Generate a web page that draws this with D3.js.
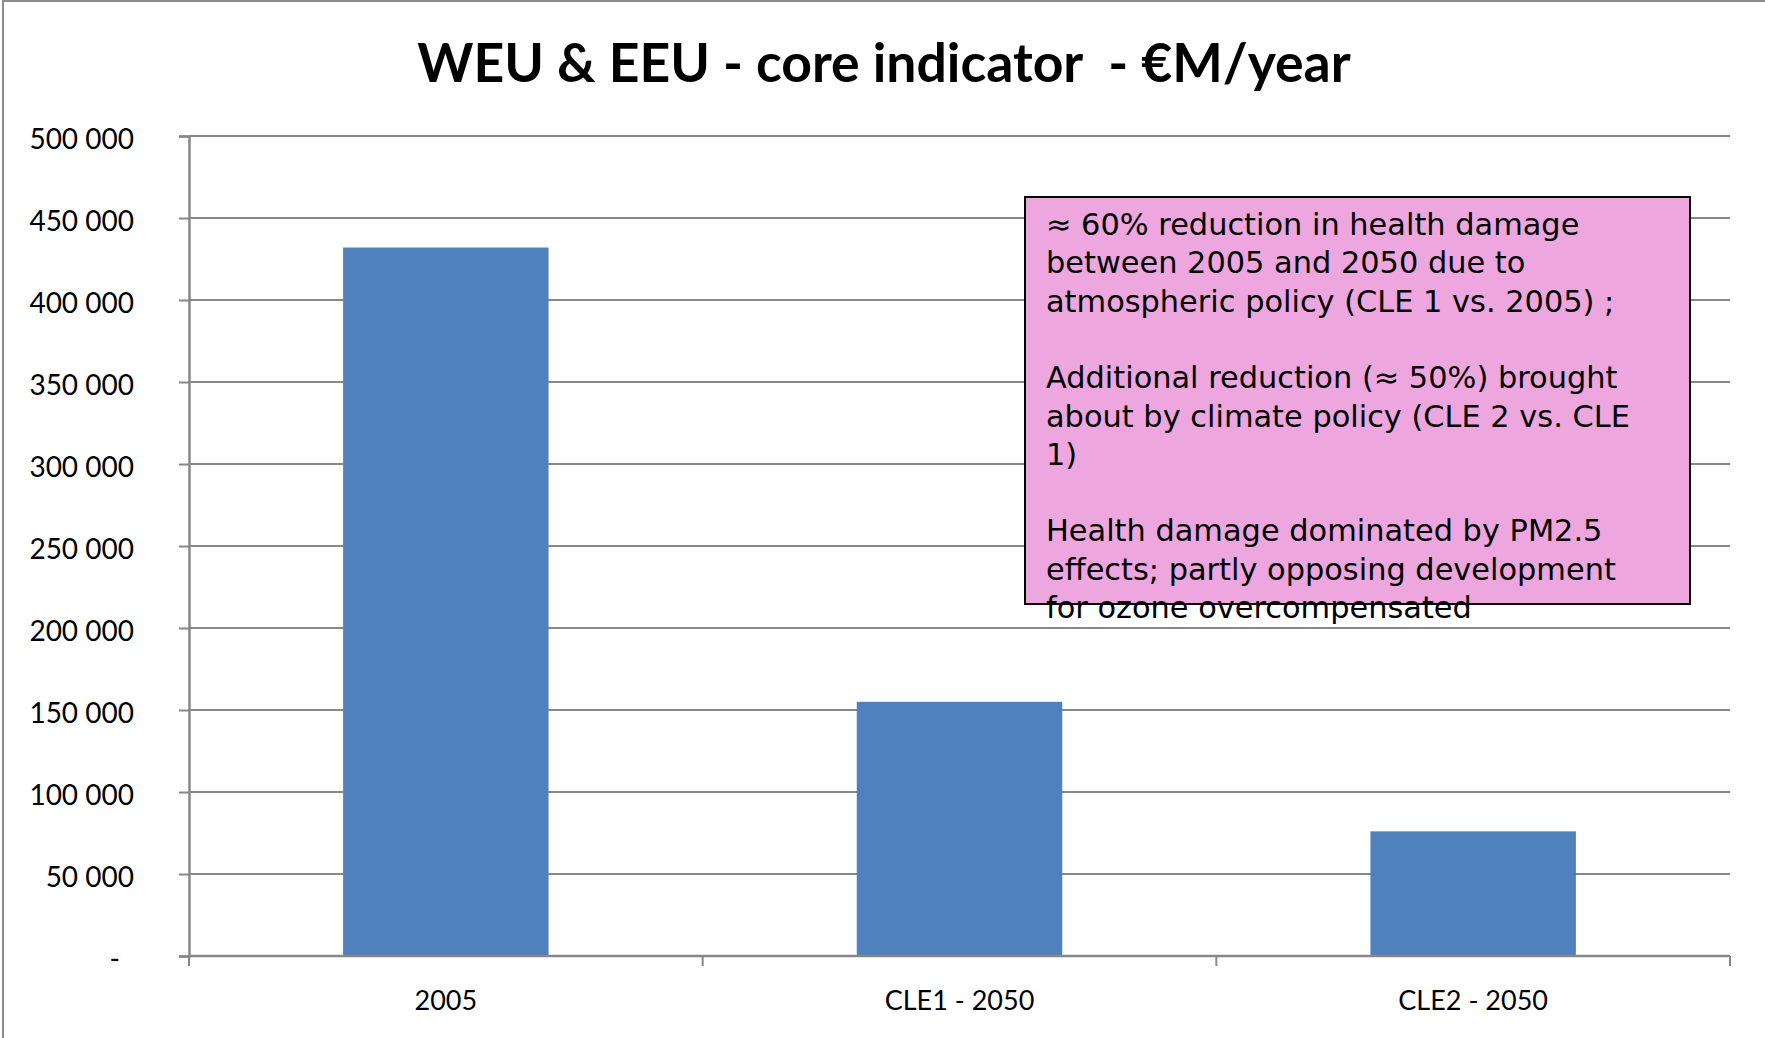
<!DOCTYPE html>
<html>
<head>
<meta charset="utf-8">
<script src="https://cdn.jsdelivr.net/npm/d3@7"></script>
<style>
  html, body { margin: 0; padding: 0; background: #fff; }
  svg { display: block; }
</style>
</head>
<body>
<svg id="chart" width="1765" height="1038"></svg>
<script>
(function() {

  'use strict';

  // data
  var categories = ['2005', 'CLE1 - 2050', 'CLE2 - 2050'];
  var values = [432000, 155000, 76000];
  var yTicks = [0, 50000, 100000, 150000, 200000, 250000, 300000, 350000, 400000, 450000, 500000];
  var title = 'WEU & EEU - core indicator  - \u20acM/year';
  var noteLines = [
    '\u2248 60% reduction in health damage',
    'between 2005 and 2050 due to',
    'atmospheric policy (CLE 1 vs. 2005) ;',
    '',
    'Additional reduction (\u2248 50%) brought',
    'about by climate policy (CLE 2 vs. CLE',
    '1)',
    '',
    'Health damage dominated by PM2.5',
    'effects; partly opposing development',
    'for ozone overcompensated'
  ];

  var svg = d3.select('#chart');
  var grey = '#878787';

  var plot = { left: 189, right: 1730, top: 136, bottom: 956 };

  var x = d3.scaleBand()
    .domain(categories)
    .range([plot.left, plot.right])
    .paddingInner(0.6)
    .paddingOuter(0.3);

  var y = d3.scaleLinear()
    .domain([0, 500000])
    .range([plot.bottom, plot.top]);

  // outer frame (top + left edges visible)
  svg.append('line')
    .attr('x1', 3).attr('x2', 1765).attr('y1', 1).attr('y2', 1)
    .attr('stroke', '#8c8c8c').attr('stroke-width', 2);
  svg.append('line')
    .attr('x1', 3).attr('x2', 3).attr('y1', 0).attr('y2', 1038)
    .attr('stroke', '#8c8c8c').attr('stroke-width', 2);

  // title
  svg.append('text')
    .attr('x', 884)
    .attr('y', 82)
    .attr('text-anchor', 'middle')
    .attr('font-family', 'Lato, sans-serif')
    .attr('font-weight', 'bold')
    .attr('font-size', 53.5)
    .style('white-space', 'pre')
    .text(title);

  // y axis with gridlines
  var fmt = function(d) {
    return d === 0 ? '-' : d3.format(',')(d).replace(/,/g, ' ');
  };

  var yAxis = svg.append('g')
    .attr('transform', 'translate(' + plot.left + ',0)')
    .call(d3.axisLeft(y).tickValues(yTicks).tickFormat(fmt).tickSize(10).tickPadding(45));

  yAxis.select('.domain').attr('stroke', grey).attr('stroke-width', 2.5);
  yAxis.selectAll('.tick line').attr('stroke', grey).attr('stroke-width', 2);
  yAxis.selectAll('.tick text')
    .attr('font-family', 'Lato, sans-serif')
    .attr('font-size', 28)
    .attr('fill', '#000')
    .attr('dy', '0.45em');
  yAxis.selectAll('.tick text').filter(function(d) { return d === 0; })
    .attr('dx', -14);

  svg.append('g')
    .selectAll('line')
    .data(yTicks.filter(function(d) { return d > 0; }))
    .join('line')
    .attr('x1', plot.left)
    .attr('x2', plot.right)
    .attr('y1', function(d) { return y(d); })
    .attr('y2', function(d) { return y(d); })
    .attr('stroke', grey)
    .attr('stroke-width', 2);

  // bars
  svg.append('g')
    .selectAll('rect')
    .data(values)
    .join('rect')
    .attr('x', function(d, i) { return x(categories[i]); })
    .attr('y', function(d) { return y(d); })
    .attr('width', x.bandwidth())
    .attr('height', function(d) { return y(0) - y(d); })
    .attr('fill', '#4f81bd');

  // x axis
  var bounds = d3.range(categories.length + 1).map(function(i) {
    return plot.left + i * (plot.right - plot.left) / categories.length;
  });

  svg.append('line')
    .attr('x1', plot.left).attr('x2', plot.right)
    .attr('y1', plot.bottom).attr('y2', plot.bottom)
    .attr('stroke', grey).attr('stroke-width', 2.5);

  svg.append('g')
    .selectAll('line')
    .data(bounds)
    .join('line')
    .attr('x1', function(d) { return d; })
    .attr('x2', function(d) { return d; })
    .attr('y1', plot.bottom)
    .attr('y2', plot.bottom + 10)
    .attr('stroke', grey)
    .attr('stroke-width', 2);

  svg.append('g')
    .selectAll('text')
    .data(categories)
    .join('text')
    .attr('x', function(d) { return x(d) + x.bandwidth() / 2; })
    .attr('y', 1010)
    .attr('text-anchor', 'middle')
    .attr('font-family', 'Lato, sans-serif')
    .attr('font-size', 27)
    .text(function(d) { return d; });

  // annotation box
  svg.append('rect')
    .attr('x', 1025)
    .attr('y', 197)
    .attr('width', 665)
    .attr('height', 407)
    .attr('fill', '#eda6de')
    .attr('stroke', '#000')
    .attr('stroke-width', 2);

  svg.append('g')
    .selectAll('text')
    .data(noteLines)
    .join('text')
    .attr('x', 1046)
    .attr('y', function(d, i) { return 235 + i * 38.3; })
    .attr('font-family', 'DejaVu Sans, sans-serif')
    .attr('font-size', 30.4)
    .attr('fill', '#000')
    .text(function(d) { return d; });

})();
</script>
</body>
</html>
